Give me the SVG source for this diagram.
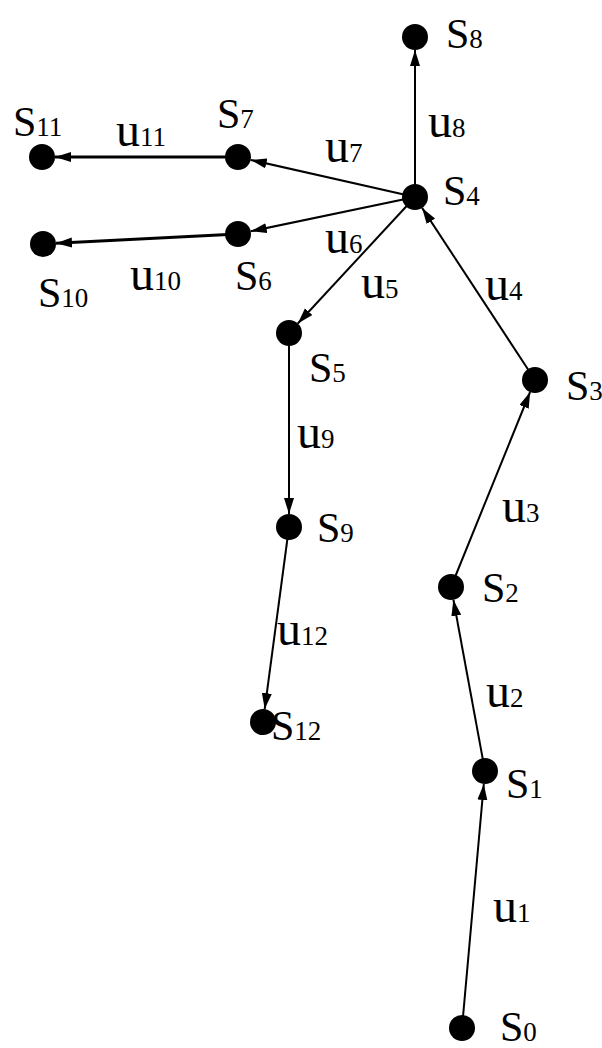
<svg xmlns="http://www.w3.org/2000/svg" width="602" height="1048" viewBox="0 0 602 1048">
<style>
.e{stroke:#000;stroke-width:2;fill:none;marker-end:url(#ah)}
.e3{stroke-width:3}
.n{fill:#000}
text{font-family:"Liberation Serif","Times New Roman",serif;fill:#000}
.s{font-size:42px}
.u{font-size:48px}
.d{font-size:27px}
</style>
<defs>
<marker id="ah" markerUnits="userSpaceOnUse" markerWidth="17" markerHeight="11" refX="16" refY="5" orient="auto">
<path d="M0,0 L16,5 L0,10 z" fill="#000"/>
</marker>
</defs>
<rect width="602" height="1048" fill="#fff"/>
<g id="connectors">
<line class="e" x1="462" y1="1028" x2="483.8" y2="784"/>
<line class="e" x1="485" y1="771" x2="453.4" y2="599.8"/>
<line class="e" x1="451" y1="587" x2="530.1" y2="392"/>
<line class="e" x1="535" y1="380" x2="422.1" y2="207.9"/>
<line class="e" x1="415" y1="197" x2="415" y2="50"/>
<line class="e" x1="415" y1="197" x2="250.7" y2="159.9"/>
<line class="e" x1="415" y1="197" x2="250.7" y2="231.3"/>
<line class="e" x1="415" y1="197" x2="297.8" y2="323.5"/>
<line class="e e3" x1="238" y1="157" x2="55" y2="157"/>
<line class="e e3" x1="238" y1="234" x2="56" y2="243.3"/>
<line class="e" x1="289" y1="333" x2="289" y2="514"/>
<line class="e" x1="289" y1="527" x2="264.7" y2="709.1"/>
<text x="493" y="922"><tspan class="u">u</tspan><tspan class="d">1</tspan></text>
<text x="486" y="707"><tspan class="u">u</tspan><tspan class="d">2</tspan></text>
<text x="502" y="522"><tspan class="u">u</tspan><tspan class="d">3</tspan></text>
<text x="485" y="300"><tspan class="u">u</tspan><tspan class="d">4</tspan></text>
<text x="361" y="298"><tspan class="u">u</tspan><tspan class="d">5</tspan></text>
<text x="325" y="253"><tspan class="u">u</tspan><tspan class="d">6</tspan></text>
<text x="325" y="162"><tspan class="u">u</tspan><tspan class="d">7</tspan></text>
<text x="428" y="137"><tspan class="u">u</tspan><tspan class="d">8</tspan></text>
<text x="297" y="448"><tspan class="u">u</tspan><tspan class="d">9</tspan></text>
<text x="130" y="290"><tspan class="u">u</tspan><tspan class="d">10</tspan></text>
<text x="116" y="146"><tspan class="u">u</tspan><tspan class="d">11</tspan></text>
<text x="277" y="645"><tspan class="u">u</tspan><tspan class="d">12</tspan></text>
</g>
<g id="S0"><circle class="n" cx="462" cy="1028" r="13"/><text x="500" y="1041"><tspan class="s">S</tspan><tspan class="d">0</tspan></text></g>
<g id="S1"><circle class="n" cx="485" cy="771" r="13"/><text x="506" y="798"><tspan class="s">S</tspan><tspan class="d">1</tspan></text></g>
<g id="S2"><circle class="n" cx="451" cy="587" r="13"/><text x="482" y="602"><tspan class="s">S</tspan><tspan class="d">2</tspan></text></g>
<g id="S3"><circle class="n" cx="535" cy="380" r="13"/><text x="566" y="400"><tspan class="s">S</tspan><tspan class="d">3</tspan></text></g>
<g id="S4"><circle class="n" cx="415" cy="197" r="13"/><text x="443" y="205"><tspan class="s">S</tspan><tspan class="d">4</tspan></text></g>
<g id="S5"><circle class="n" cx="289" cy="333" r="13"/><text x="309" y="382"><tspan class="s">S</tspan><tspan class="d">5</tspan></text></g>
<g id="S6"><circle class="n" cx="238" cy="234" r="13"/><text x="235" y="290"><tspan class="s">S</tspan><tspan class="d">6</tspan></text></g>
<g id="S7"><circle class="n" cx="238" cy="157" r="13"/><text x="217" y="128"><tspan class="s">S</tspan><tspan class="d">7</tspan></text></g>
<g id="S8"><circle class="n" cx="415" cy="37" r="13"/><text x="446" y="48"><tspan class="s">S</tspan><tspan class="d">8</tspan></text></g>
<g id="S9"><circle class="n" cx="289" cy="527" r="13"/><text x="317" y="542"><tspan class="s">S</tspan><tspan class="d">9</tspan></text></g>
<g id="S10"><circle class="n" cx="43" cy="244" r="13"/><text x="38" y="307"><tspan class="s">S</tspan><tspan class="d">10</tspan></text></g>
<g id="S11"><circle class="n" cx="42" cy="157" r="13"/><text x="13" y="136"><tspan class="s">S</tspan><tspan class="d">11</tspan></text></g>
<g id="S12"><circle class="n" cx="263" cy="722" r="13"/><text x="271" y="740"><tspan class="s">S</tspan><tspan class="d">12</tspan></text></g>
</svg>
